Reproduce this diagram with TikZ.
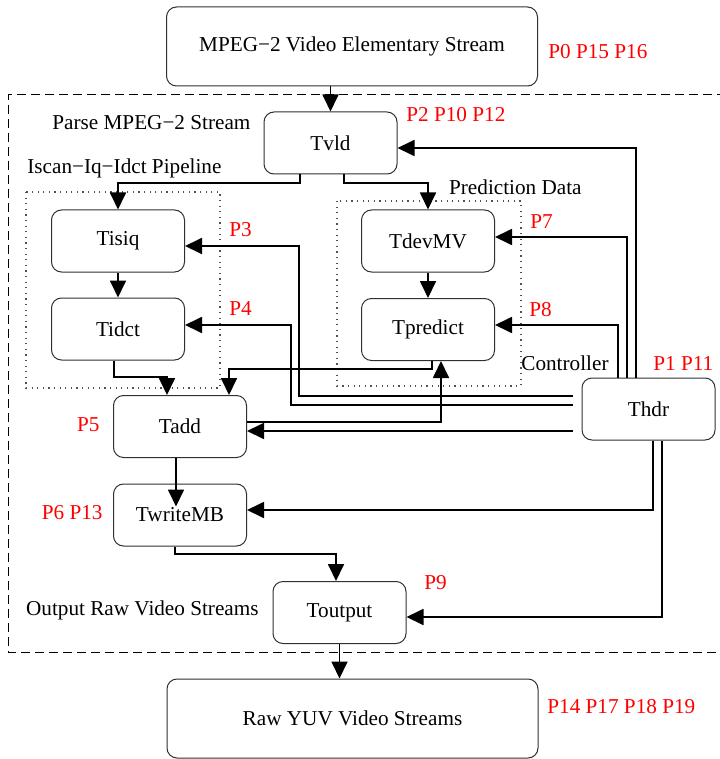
\documentclass[tikz,border=0pt]{standalone}
\usepackage{fontspec}
\setmainfont{Liberation Serif}
\usetikzlibrary{calc,arrows.meta}
\definecolor{boxc}{HTML}{303030}
\definecolor{dotc}{HTML}{505050}
\tikzset{
  cn/.style={-{Triangle[length=8.5pt,width=8pt]},line width=0.9pt},
  tk/.style={rectangle,rounded corners=5pt,draw=boxc,line width=0.5pt,minimum width=66.5pt,minimum height=31pt,inner sep=0pt},
  bg/.style={tk,minimum width=185.5pt,minimum height=39.5pt},
  pl/.style={text=red,inner sep=0pt},
  tx/.style={inner sep=0pt},
  grp/.style={dotc,line width=0.6pt,dash pattern=on 0.6pt off 2.2pt}
}

\begin{document}
\begin{tikzpicture}[x=0.5pt,y=-0.5pt,font=\fontsize{10.6}{12}\selectfont]
\useasboundingbox (0,0) rectangle (719,759);
% frames
\draw[line width=0.5pt,dash pattern=on 4.5pt off 2.5pt] (740,95) -- (8,95) -- (8,652) -- (740,652);
\draw[grp] (26,192) rectangle (220,388);
\draw[grp] (337,201) rectangle (521,386);
% tasks
\node[bg] (mpeg) at (352,46.5) {MPEG−2 Video Elementary Stream};
\node[bg] (raw) at (352.5,718.5) {Raw YUV Video Streams};
\node[tk] (tvld) at (330.5,143) {Tvld};
\node[tk] (tisiq) at (118,241) {Tisiq};
\node[tk] (tidct) at (118,329) {Tidct};
\node[tk] (tdev) at (428,241) {TdevMV};
\node[tk] (tpred) at (428,329.5) {Tpredict};
\node[tk] (tadd) at (180,426.5) {Tadd};
\node[tk] (twmb) at (180,515) {TwriteMB};
\node[tk] (tout) at (339.5,612.5) {Toutput};
\node[tk] (thdr) at (648.5,409) {Thdr};
% group names
\node[tx,anchor=west] (lparse) at (52,123) {Parse MPEG−2 Stream};
\node[tx,anchor=west] (lpipe) at (27,168) {Iscan−Iq−Idct Pipeline};
\node[tx,anchor=east] (lpdat) at (582,187) {Prediction Data};
\node[tx,anchor=west] (lctrl) at (521,363) {Controller};
\node[tx,anchor=east] (lout) at (259,610) {Output Raw Video Streams};
% processor tags
\node[pl,anchor=west] (p0) at (548,52) {P0 P15 P16};
\node[pl,anchor=west] (p2) at (406,115) {P2 P10 P12};
\node[pl,anchor=west] (p3) at (229,230) {P3};
\node[pl,anchor=west] (p4) at (229,309) {P4};
\node[pl,anchor=west] (p7) at (530,222) {P7};
\node[pl,anchor=west] (p8) at (529,310) {P8};
\node[pl,anchor=west] (p1) at (653,363) {P1 P11};
\node[pl,anchor=east] (p5) at (100,425) {P5};
\node[pl,anchor=east] (p6) at (103,513) {P6 P13};
\node[pl,anchor=west] (p9) at (424,583) {P9};
\node[pl,anchor=west] (p14) at (547,707) {P14 P17 P18 P19};
% data flow
\draw[cn] (mpeg.south -| tvld.north) -- (tvld.north);
\draw[cn] ($(tvld.south)+(-30.5,0)$) -- (300,183) -| (tisiq.north);
\draw[cn] ($(tvld.south)+(13.5,0)$) -- (344,183) -| (tdev.north);
\draw[cn] (tisiq) -- (tidct);
\draw[cn] (tdev) -- (tpred);
\draw[cn] ($(tidct.south)+(-4,0)$) -- (114,377) -| ($(tadd.north)+(-13,0)$);
\draw[cn] ($(tpred.south)+(4,0)$) -- (432,369) -| ($(tadd.north)+(49,0)$);
\draw[cn] ($(tadd.east)+(0,-4.5)$) -- (441,422) -- ($(tpred.south)+(13,0)$);
\draw[cn] ($(tadd.south)+(-4,0)$) -- ($(twmb.north)+(-4,23)$);
\draw[cn] ($(twmb.south)+(-5,0)$) -- (175,554) -| ($(tout.north)+(-3.5,0)$);
\draw[cn] (tout.south) -- (raw.north -| tout.south);
% control from Thdr
\draw[cn] ($(thdr.west)+(-9,-13)$) -- (299,396) -- (299,246) -- ($(tisiq.east)+(0,5)$);
\draw[cn] ($(thdr.west)+(-9,-4)$) -- (291,405) -- (291,325) -- ($(tidct.east)+(0,-4)$);
\draw[cn] ($(thdr.west)+(-9,22)$) -- ($(tadd.east)+(0,4.5)$);
\draw[cn] ($(thdr.north)+(-30.5,0)$) -- (618,325) -- ($(tpred.east)+(0,-4.5)$);
\draw[cn] ($(thdr.north)+(-21.5,0)$) -- (627,237) -- ($(tdev.east)+(0,-4)$);
\draw[cn] ($(thdr.north)+(-12.5,0)$) -- (636,148) -- ($(tvld.east)+(0,5)$);
\draw[cn] ($(thdr.south)+(4.5,0)$) -- (653,510) -- ($(twmb.east)+(0,-5)$);
\draw[cn] ($(thdr.south)+(13.5,0)$) -- (662,617) -- ($(tout.east)+(0,4.5)$);
\end{tikzpicture}
\end{document}
